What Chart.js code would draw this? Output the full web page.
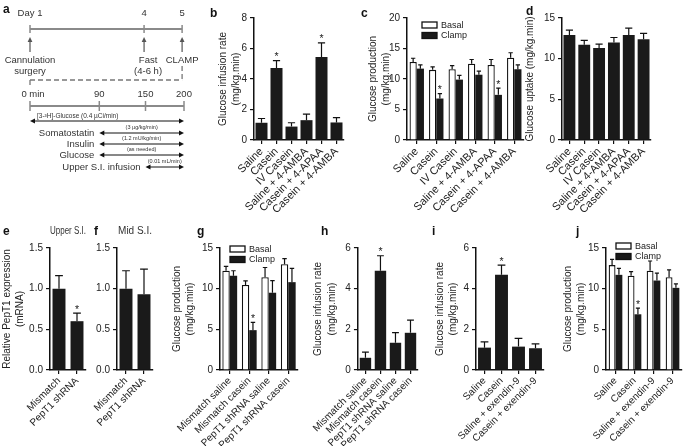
<!DOCTYPE html>
<html>
<head>
<meta charset="utf-8">
<script src="https://cdn.jsdelivr.net/npm/chart.js@4.4.1/dist/chart.umd.min.js"></script>
<style>
  html, body { margin: 0; padding: 0; background: #fff; }
  body { position: relative; width: 685px; height: 446px; overflow: hidden; }
  canvas { position: absolute; }
  .lbl { position: absolute; font: bold 12px 'Liberation Sans', Arial, sans-serif; line-height: 12px; color: #111; }
</style>
</head>
<body>
<script>
const FONT = "'Liberation Sans', Arial, Helvetica, sans-serif";
const BLACK = '#1a1a1a';

// ---- panel a: protocol timeline ----
const dayTicks = [1, 4, 5];
const dayLabels = ['Day 1', '4', '5'];
const dayEvents = [['Cannulation', 'surgery'], ['Fast', '(4-6 h)'], ['CLAMP']];
const minuteTicks = [0, 90, 150, 200];
const minuteLabels = ['0 min', '90', '150', '200'];
const infusionNames = ['[3-³H]-Glucose (0.4 µCi/min)', 'Somatostatin', 'Insulin', 'Glucose', 'Upper S.I. infusion'];
const infusionNotes = ['', '(3 µg/kg/min)', '(1.2 mU/kg/min)', '(as needed)', '(0.01 mL/min)'];
const infusionStart = [0, 90, 90, 90, 150];
const infusionEnd = [200, 200, 200, 200, 200];

// ---- b, c, d ----
const topLabels = ['Saline', 'Casein', 'IV Casein', 'Saline + 4-AMBA', 'Casein + 4-APAA', 'Casein + 4-AMBA'];
const bRate = [1.13, 4.72, 0.88, 1.3, 5.45, 1.15];
const bRateSem = [0.28, 0.48, 0.25, 0.4, 0.92, 0.32];
const bRateStar = [0, 1, 0, 0, 1, 0];
const cBasal = [12.8, 11.5, 11.6, 12.5, 12.3, 13.5];
const cBasalSem = [0.6, 0.5, 0.6, 0.7, 0.9, 0.8];
const cClamp = [11.7, 6.8, 9.9, 10.7, 7.4, 11.6];
const cClampSem = [0.6, 0.8, 0.7, 0.6, 1.1, 0.7];
const cClampStar = [0, 1, 0, 0, 1, 0];
const dUptake = [12.9, 11.7, 11.3, 12.0, 12.9, 12.4];
const dUptakeSem = [0.6, 0.55, 0.5, 0.6, 0.85, 0.7];

// ---- e, f ----
const shLabels = ['Mismatch', 'PepT1 shRNA'];
const eExpr = [1.0, 0.6];
const eExprSem = [0.16, 0.1];
const eExprStar = [0, 1];
const fExpr = [1.0, 0.93];
const fExprSem = [0.22, 0.31];

// ---- g, h ----
const pepLabels = ['Mismatch saline', 'Mismatch casein', 'PepT1 shRNA saline', 'PepT1 shRNA casein'];
const gBasal = [12.2, 10.45, 11.4, 13.0];
const gBasalSem = [0.55, 0.5, 1.2, 0.7];
const gClamp = [11.6, 4.9, 9.5, 10.8];
const gClampSem = [0.6, 0.95, 1.5, 1.7];
const gClampStar = [0, 1, 0, 0];
const hRate = [0.6, 4.88, 1.34, 1.83];
const hRateSem = [0.28, 0.74, 0.5, 0.62];
const hRateStar = [0, 1, 0, 0];

// ---- i, j ----
const exLabels = ['Saline', 'Casein', 'Saline + exendin-9', 'Casein + exendin-9'];
const iRate = [1.1, 4.68, 1.15, 1.07];
const iRateSem = [0.28, 0.48, 0.41, 0.21];
const iRateStar = [0, 1, 0, 0];
const jBasal = [12.9, 11.6, 12.2, 11.4];
const jBasalSem = [0.7, 0.5, 1.2, 0.9];
const jClamp = [11.7, 6.85, 11.0, 10.1];
const jClampSem = [0.8, 0.75, 0.9, 0.5];
const jClampStar = [0, 1, 0, 0];

Chart.defaults.font.family = FONT;
Chart.defaults.color = '#222';
Chart.defaults.animation = false;

function addCanvas(left, top, w, h) {
  const c = document.createElement('canvas');
  c.width = w; c.height = h;
  c.style.left = left + 'px'; c.style.top = top + 'px';
  c.style.width = w + 'px'; c.style.height = h + 'px';
  document.body.appendChild(c);
  return c;
}

function addLetter(t, x, baseline) {
  const d = document.createElement('div');
  d.className = 'lbl';
  d.textContent = t;
  d.style.left = x + 'px';
  d.style.top = (baseline - 10) + 'px';
  document.body.appendChild(d);
}

// error bars (upper only) and significance stars
const errorBars = {
  id: 'errorBars',
  afterDatasetsDraw(chart) {
    const ctx = chart.ctx, y = chart.scales.y;
    chart.data.datasets.forEach((ds, i) => {
      if (!ds.errors) return;
      chart.getDatasetMeta(i).data.forEach((bar, j) => {
        const top = y.getPixelForValue(ds.data[j] + ds.errors[j]);
        const half = bar.width * 0.3;
        ctx.save();
        ctx.strokeStyle = '#111';
        ctx.lineWidth = 1.2;
        ctx.beginPath();
        ctx.moveTo(bar.x, bar.y);
        ctx.lineTo(bar.x, top);
        ctx.moveTo(bar.x - half, top);
        ctx.lineTo(bar.x + half, top);
        ctx.stroke();
        if (ds.stars && ds.stars[j]) {
          ctx.fillStyle = '#222';
          ctx.font = '10.5px ' + FONT;
          ctx.textAlign = 'center';
          ctx.textBaseline = 'alphabetic';
          ctx.fillText('*', bar.x, top - 0.5);
        }
        ctx.restore();
      });
    });
  }
};

// small Basal / Clamp key inside the plot
const miniLegend = {
  id: 'miniLegend',
  afterDraw(chart, args, opts) {
    if (opts.dx === undefined) return;
    const ctx = chart.ctx, a = chart.chartArea;
    chart.data.datasets.forEach((ds, k) => {
      const x = a.left + opts.dx, y = a.top + opts.dy + k * 10.5;
      ctx.save();
      ctx.fillStyle = ds.backgroundColor;
      ctx.fillRect(x, y - 3, 15, 6);
      ctx.strokeStyle = '#111';
      ctx.lineWidth = 1.3;
      ctx.strokeRect(x, y - 3, 15, 6);
      ctx.fillStyle = '#222';
      ctx.font = '9px ' + FONT;
      ctx.textAlign = 'left';
      ctx.textBaseline = 'middle';
      ctx.fillText(ds.label, x + 19, y + 0.5);
      ctx.restore();
    });
  }
};

function barPanel(p) {
  const titleH = p.title ? 23 : 0;
  const padR = 8;
  const w = p.R + padR - p.cl, h = p.cb - p.ct;
  const canvas = addCanvas(p.cl, p.ct, w, h);
  const axisGrid = { drawOnChartArea: false, drawTicks: true, tickLength: 4, color: '#111', lineWidth: 1.2 };
  const axisBorder = { display: true, color: '#111', width: 1.5 };
  return new Chart(canvas, {
    type: 'bar',
    data: { labels: p.labels, datasets: p.datasets },
    options: {
      responsive: false,
      maintainAspectRatio: false,
      animation: false,
      layout: { padding: { top: p.top - p.ct - titleH, right: padR, left: 0, bottom: 0 } },
      datasets: { bar: { barPercentage: p.barPct, categoryPercentage: p.catPct } },
      plugins: {
        legend: { display: false },
        tooltip: { enabled: false },
        title: p.title
          ? { display: true, text: p.title, fullSize: false, color: '#333',
              font: { size: 10, weight: 'normal' }, padding: { top: 0, bottom: 11 } }
          : { display: false },
        miniLegend: p.legend || {}
      },
      scales: {
        x: {
          grid: Object.assign({ offset: false }, axisGrid),
          border: axisBorder,
          ticks: { autoSkip: false, minRotation: 45, maxRotation: 45, font: { size: p.xFont || 10 }, padding: 1 },
          afterFit: s => { s.height = p.cb - p.bottom; }
        },
        y: {
          min: 0, max: p.yMax,
          grid: axisGrid,
          border: axisBorder,
          ticks: {
            stepSize: p.step, font: { size: 10 }, padding: 3,
            callback: v => p.decimals ? v.toFixed(p.decimals) : v
          },
          title: {
            display: !!p.yTitle, text: p.yTitle, color: '#222',
            font: { size: 10, lineHeight: 1.35 }, padding: { top: 0, bottom: 0 }
          },
          afterFit: s => { s.width = p.L - p.cl; }
        }
      }
    },
    plugins: [errorBars, miniLegend]
  });
}

const single = (data, errors, stars) => [{ label: '', data, errors, stars, backgroundColor: BLACK, borderWidth: 0 }];
const paired = (b, bs, c, cs, st) => [
  { label: 'Basal', data: b, errors: bs, backgroundColor: '#ffffff', borderColor: '#111', borderWidth: 1.3 },
  { label: 'Clamp', data: c, errors: cs, stars: st, backgroundColor: BLACK, borderWidth: 0 }
];

// ---- panel a ----
const timelinePlugin = {
  id: 'timeline',
  afterDraw(chart) {
    const { ctx, scales } = chart;
    const X = v => scales.x.getPixelForValue(v);
    const D = v => scales.day.getPixelForValue(v);
    const Y = v => scales.y.getPixelForValue(v);
    const text = (s, x, y, size, align) => {
      ctx.font = size + 'px ' + FONT;
      ctx.textAlign = align || 'center';
      ctx.textBaseline = 'middle';
      ctx.fillStyle = '#333';
      ctx.fillText(s, x, y);
    };
    const line = (x1, y1, x2, y2, color, width, dash) => {
      ctx.save();
      ctx.strokeStyle = color; ctx.lineWidth = width;
      if (dash) ctx.setLineDash(dash);
      ctx.beginPath(); ctx.moveTo(x1, y1); ctx.lineTo(x2, y2); ctx.stroke();
      ctx.restore();
    };
    const head = (x, y, dx, dy, color) => {
      const L = 5, W = 2.4;
      ctx.fillStyle = color;
      ctx.beginPath();
      ctx.moveTo(x, y);
      ctx.lineTo(x - dx * L - dy * W, y - dy * L + dx * W);
      ctx.lineTo(x - dx * L + dy * W, y - dy * L - dx * W);
      ctx.closePath();
      ctx.fill();
    };
    ctx.save();
    // days
    const d0 = D(dayTicks[0]), d1 = D(dayTicks[dayTicks.length - 1]);
    line(d0, Y(29), d1, Y(29), '#8a8a8a', 2);
    dayTicks.forEach((d, k) => {
      const x = D(d);
      line(x, Y(25), x, Y(33), '#8a8a8a', 1.5);
      text(dayLabels[k], x, Y(13), 9.5);
      line(x, Y(52), x, Y(40), '#555', 1.2);
      head(x, Y(37), 0, -1, '#555');
      dayEvents[k].forEach((s, r) => text(s, x + (k === 1 ? 4 : 0), Y(60 + r * 11), 9.5));
    });
    // dashed link between clamp day and minute scale
    line(d1, Y(66), d1, Y(80), '#777', 1.3, [5, 3]);
    line(d0, Y(80), d1, Y(80), '#777', 1.3, [5, 3]);
    line(d0, Y(80), d0, Y(88), '#777', 1.3, [5, 3]);
    // minutes
    line(X(minuteTicks[0]), Y(106), X(minuteTicks[minuteTicks.length - 1]), Y(106), '#8a8a8a', 2);
    minuteTicks.forEach((m, k) => {
      line(X(m), Y(101), X(m), Y(111), '#8a8a8a', 1.5);
      text(minuteLabels[k], X(m) + (k === 0 ? 3 : 0), Y(94), 9.5);
    });
    // infusions
    const rows = [121, 133, 144, 155, 167];
    infusionNames.forEach((name, k) => {
      const xs = X(infusionStart[k]), xe = X(infusionEnd[k]), y = Y(rows[k]);
      line(xs + 3, y, xe - 3, y, '#111', 1);
      head(xs, y, -1, 0, '#111');
      head(xe, y, 1, 0, '#111');
      if (k === 0) {
        text(name, xs + 7, Y(rows[k] - 5), 6.5, 'left');
      } else {
        text(name, xs - 5, y, 9.5, 'right');
        text(infusionNotes[k], (xs + xe) / 2, Y(rows[k] - 6), 5.5);
      }
    });
    ctx.restore();
  }
};

new Chart(addCanvas(0, 0, 200, 190), {
  type: 'scatter',
  data: { datasets: [] },
  options: {
    responsive: false,
    animation: false,
    layout: { padding: { left: 30, right: 16, top: 0, bottom: 0 } },
    plugins: { legend: { display: false }, tooltip: { enabled: false } },
    scales: {
      x: { type: 'linear', min: 0, max: 200, display: false },
      day: { type: 'linear', axis: 'x', min: 1, max: 5.05, display: false },
      y: { type: 'linear', min: 0, max: 190, reverse: true, display: false }
    }
  },
  plugins: [timelinePlugin]
});

// ---- top row ----
const TOP = { ct: 8, top: 18, bottom: 140, cb: 236, xFont: 11 };
barPanel(Object.assign({}, TOP, {
  cl: 216, L: 254, R: 344, labels: topLabels, datasets: single(bRate, bRateSem, bRateStar),
  yMax: 8, step: 2, yTitle: ['Glucose infusion rate', '(mg/kg.min)'], barPct: 0.8, catPct: 1
}));
barPanel(Object.assign({}, TOP, {
  cl: 366, L: 407, R: 524, labels: topLabels,
  datasets: paired(cBasal, cBasalSem, cClamp, cClampSem, cClampStar),
  yMax: 20, step: 5, yTitle: ['Glucose production', '(mg/kg.min)'], barPct: 1, catPct: 0.74,
  legend: { dx: 15, dy: 7 }
}));
barPanel(Object.assign({}, TOP, {
  cl: 523, L: 562, R: 651, labels: topLabels, datasets: single(dUptake, dUptakeSem),
  yMax: 15, step: 5, yTitle: 'Glucose uptake (mg/kg.min)', barPct: 0.8, catPct: 1
}));

// ---- bottom row ----
const BOT = { ct: 238, top: 248, bottom: 370, cb: 446 };
barPanel(Object.assign({}, BOT, {
  ct: 222, cl: 0, L: 50, R: 86, labels: shLabels, datasets: single(eExpr, eExprSem, eExprStar),
  yMax: 1.5, step: 0.5, decimals: 1, yTitle: ['Relative PepT1 expression', '(mRNA)'],
  title: 'Upper S.I.', barPct: 0.72, catPct: 1
}));
barPanel(Object.assign({}, BOT, {
  ct: 222, cl: 85, L: 117, R: 153, labels: shLabels, datasets: single(fExpr, fExprSem),
  yMax: 1.5, step: 0.5, decimals: 1, title: 'Mid S.I.', barPct: 0.72, catPct: 1
}));
barPanel(Object.assign({}, BOT, {
  cl: 170, L: 220, R: 298, labels: pepLabels,
  datasets: paired(gBasal, gBasalSem, gClamp, gClampSem, gClampStar),
  yMax: 15, step: 5, yTitle: ['Glucose production', '(mg/kg.min)'], barPct: 1, catPct: 0.76,
  legend: { dx: 10, dy: 1 }
}));
barPanel(Object.assign({}, BOT, {
  cl: 308, L: 354, R: 418, labels: pepLabels, datasets: single(hRate, hRateSem, hRateStar),
  yMax: 6, step: 2, yTitle: ['Glucose infusion rate', '(mg/kg.min)'], barPct: 0.76, catPct: 1
}));
barPanel(Object.assign({}, BOT, {
  cl: 433, L: 476, R: 544, labels: exLabels, datasets: single(iRate, iRateSem, iRateStar),
  yMax: 6, step: 2, yTitle: ['Glucose infusion rate', '(mg/kg.min)'], barPct: 0.76, catPct: 1
}));
barPanel(Object.assign({}, BOT, {
  cl: 561, L: 606, R: 682, labels: exLabels,
  datasets: paired(jBasal, jBasalSem, jClamp, jClampSem, jClampStar),
  yMax: 15, step: 5, yTitle: ['Glucose production', '(mg/kg.min)'], barPct: 1, catPct: 0.72,
  legend: { dx: 10, dy: -2 }
}));

// panel letters
[['a', 3, 13], ['b', 210, 17], ['c', 361, 17], ['d', 526, 15],
 ['e', 3, 235], ['f', 94, 235], ['g', 197, 235], ['h', 321, 235], ['i', 432, 235], ['j', 576, 235]]
  .forEach(l => addLetter(l[0], l[1], l[2]));
</script>
</body>
</html>
